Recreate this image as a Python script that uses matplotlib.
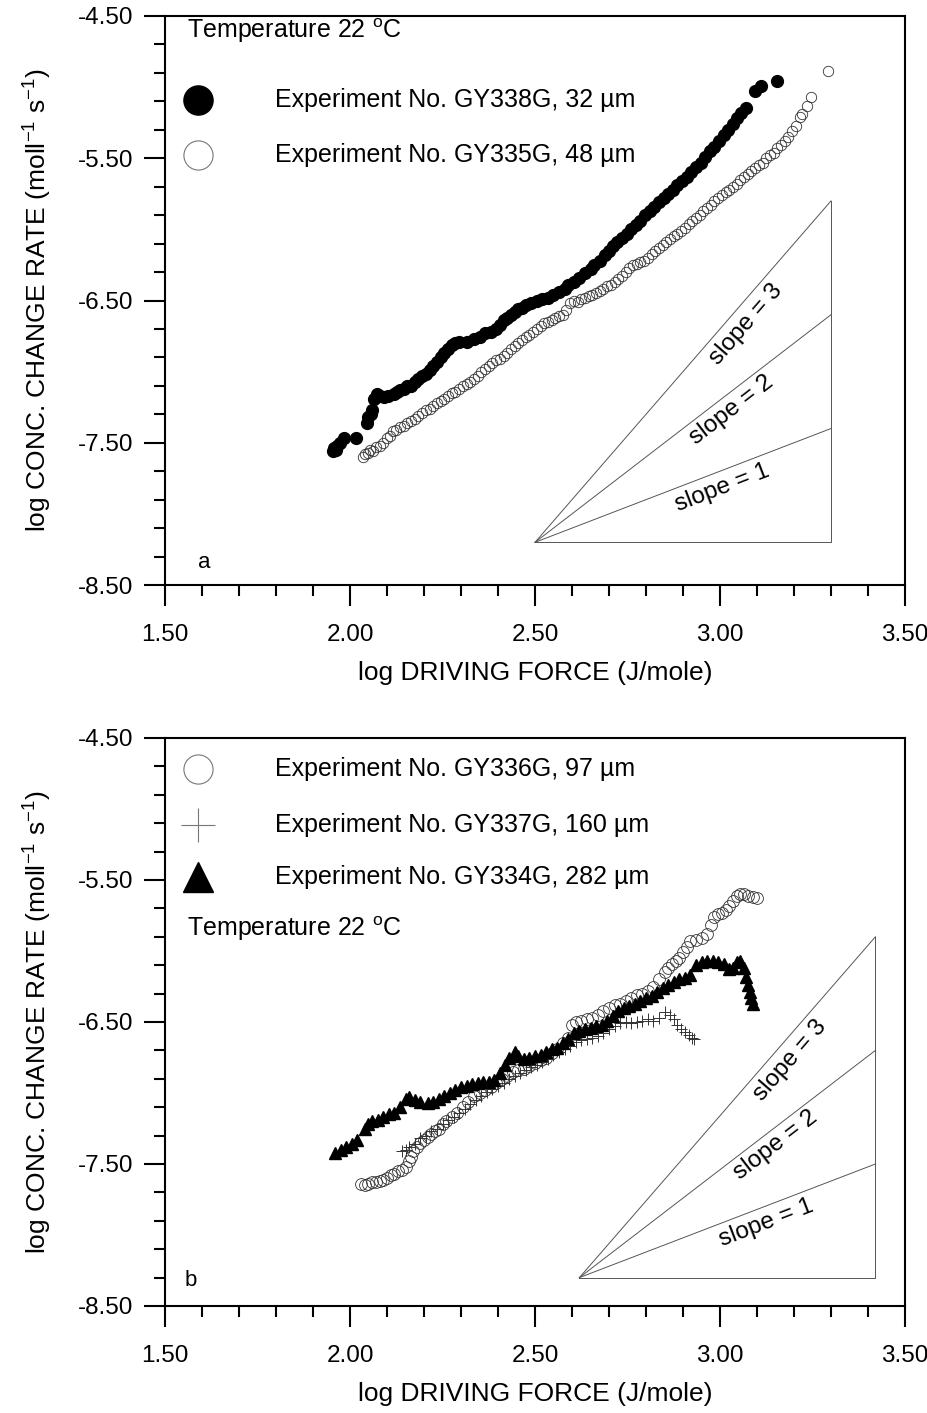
import matplotlib
matplotlib.use("Agg")
import matplotlib.pyplot as plt
from matplotlib.ticker import FixedLocator, FormatStrFormatter
import numpy as np

plt.rcParams['font.family'] = ['Liberation Sans', 'DejaVu Sans']
plt.rcParams['mathtext.fontset'] = 'custom'
plt.rcParams['mathtext.rm'] = 'Liberation Sans'
plt.rcParams['mathtext.it'] = 'Liberation Sans:italic'

# panel a : GY338G (32 um, filled circles)
a338_x = [1.955, 1.958, 1.962, 1.965, 1.972, 1.985, 2.015, 2.045, 2.050, 2.056,
          2.060, 2.064, 2.072, 2.080, 2.093, 2.102, 2.120, 2.128, 2.136, 2.145,
          2.155, 2.165, 2.175, 2.185, 2.195, 2.205, 2.215, 2.225, 2.235, 2.245,
          2.255, 2.265, 2.275, 2.285, 2.295, 2.315, 2.335, 2.350, 2.365, 2.380,
          2.395, 2.405, 2.415, 2.425, 2.435, 2.445, 2.455, 2.465, 2.475, 2.490,
          2.505, 2.520, 2.535, 2.550, 2.565, 2.580, 2.590, 2.605, 2.620, 2.635,
          2.650, 2.660, 2.675, 2.690, 2.700, 2.712, 2.722, 2.735, 2.748, 2.760,
          2.772, 2.785, 2.798, 2.810, 2.822, 2.835, 2.848, 2.860, 2.872, 2.885,
          2.898, 2.910, 2.922, 2.935, 2.948, 2.960, 2.972, 2.985, 2.998, 3.010,
          3.022, 3.034, 3.046, 3.058, 3.070, 3.095, 3.112, 3.155]
a338_y = [-7.56, -7.54, -7.55, -7.52, -7.50, -7.47, -7.47, -7.36, -7.32, -7.30,
          -7.27, -7.19, -7.16, -7.17, -7.18, -7.17, -7.16, -7.14, -7.13, -7.12,
          -7.10, -7.10, -7.07, -7.05, -7.03, -7.02, -6.99, -6.96, -6.93, -6.90,
          -6.87, -6.84, -6.81, -6.80, -6.79, -6.79, -6.77, -6.76, -6.73, -6.72,
          -6.70, -6.67, -6.64, -6.62, -6.60, -6.58, -6.56, -6.55, -6.53, -6.52,
          -6.50, -6.49, -6.48, -6.46, -6.44, -6.42, -6.39, -6.37, -6.34, -6.31,
          -6.28, -6.25, -6.22, -6.18, -6.15, -6.12, -6.09, -6.06, -6.03, -6.00,
          -5.97, -5.94, -5.90, -5.87, -5.84, -5.81, -5.78, -5.75, -5.72, -5.69,
          -5.66, -5.63, -5.60, -5.56, -5.53, -5.49, -5.45, -5.42, -5.38, -5.34,
          -5.30, -5.26, -5.22, -5.18, -5.15, -5.03, -4.99, -4.96]

# panel a : GY335G (48 um, open circles)
a335_x = [2.035, 2.040, 2.048, 2.055, 2.062, 2.070, 2.080, 2.090, 2.100, 2.108,
          2.115, 2.125, 2.135, 2.145, 2.155, 2.165, 2.175, 2.185, 2.195, 2.205,
          2.215, 2.225, 2.235, 2.245, 2.255, 2.265, 2.275, 2.285, 2.295, 2.305,
          2.315, 2.325, 2.335, 2.345, 2.355, 2.365, 2.375, 2.385, 2.395, 2.405,
          2.415, 2.425, 2.435, 2.445, 2.455, 2.465, 2.475, 2.485, 2.495, 2.505,
          2.515, 2.525, 2.535, 2.545, 2.555, 2.565, 2.575, 2.585, 2.595, 2.605,
          2.615, 2.625, 2.635, 2.645, 2.655, 2.665, 2.675, 2.685, 2.695, 2.705,
          2.715, 2.725, 2.735, 2.745, 2.755, 2.765, 2.775, 2.785, 2.795, 2.805,
          2.815, 2.825, 2.835, 2.845, 2.855, 2.865, 2.875, 2.885, 2.895, 2.905,
          2.915, 2.925, 2.935, 2.945, 2.955, 2.965, 2.975, 2.985, 2.995, 3.005,
          3.015, 3.025, 3.035, 3.045, 3.055, 3.065, 3.075, 3.085, 3.095, 3.105,
          3.115, 3.125, 3.135, 3.145, 3.155, 3.165, 3.175, 3.185, 3.195, 3.205,
          3.215, 3.222, 3.235, 3.245, 3.292]
a335_y = [-7.60, -7.58, -7.57, -7.55, -7.56, -7.53, -7.52, -7.50, -7.47, -7.45,
          -7.42, -7.41, -7.39, -7.38, -7.36, -7.35, -7.33, -7.31, -7.29, -7.27,
          -7.26, -7.24, -7.22, -7.21, -7.19, -7.17, -7.15, -7.14, -7.12, -7.10,
          -7.09, -7.07, -7.05, -7.03, -7.00, -6.98, -6.96, -6.94, -6.92, -6.91,
          -6.89, -6.87, -6.84, -6.82, -6.80, -6.78, -6.76, -6.74, -6.72, -6.70,
          -6.68, -6.66, -6.65, -6.64, -6.62, -6.61, -6.60, -6.57, -6.52, -6.50,
          -6.51, -6.49, -6.48, -6.47, -6.46, -6.45, -6.43, -6.42, -6.40, -6.39,
          -6.37, -6.35, -6.33, -6.30, -6.27, -6.25, -6.24, -6.23, -6.22, -6.20,
          -6.17, -6.15, -6.13, -6.11, -6.09, -6.07, -6.05, -6.03, -6.01, -5.99,
          -5.96, -5.94, -5.92, -5.90, -5.87, -5.85, -5.83, -5.80, -5.78, -5.76,
          -5.74, -5.72, -5.70, -5.68, -5.65, -5.63, -5.61, -5.59, -5.57, -5.55,
          -5.53, -5.50, -5.48, -5.46, -5.43, -5.41, -5.38, -5.35, -5.31, -5.27,
          -5.21, -5.19, -5.13, -5.07, -4.89]

# panel b : GY336G (97 um, open circles)
b336_x = [2.030, 2.040, 2.050, 2.060, 2.070, 2.080, 2.090, 2.100, 2.110, 2.120,
          2.130, 2.140, 2.150, 2.160, 2.165, 2.170, 2.180, 2.190, 2.200, 2.210,
          2.220, 2.230, 2.240, 2.250, 2.260, 2.275, 2.290, 2.305, 2.320, 2.335,
          2.350, 2.365, 2.380, 2.395, 2.410, 2.425, 2.440, 2.455, 2.470, 2.485,
          2.500, 2.515, 2.530, 2.545, 2.560, 2.575, 2.590, 2.600, 2.610, 2.625,
          2.640, 2.655, 2.670, 2.685, 2.700, 2.715, 2.730, 2.745, 2.760, 2.775,
          2.790, 2.805, 2.820, 2.835, 2.850, 2.860, 2.870, 2.880, 2.890, 2.900,
          2.910, 2.920, 2.935, 2.950, 2.965, 2.975, 2.985, 2.995, 3.005, 3.015,
          3.025, 3.035, 3.045, 3.055, 3.065, 3.075, 3.090, 3.100]
b336_y = [-7.64, -7.65, -7.64, -7.63, -7.63, -7.62, -7.61, -7.60, -7.58, -7.57,
          -7.55, -7.54, -7.52, -7.48, -7.45, -7.41, -7.38, -7.35, -7.33, -7.31,
          -7.29, -7.27, -7.25, -7.22, -7.20, -7.17, -7.14, -7.10, -7.06, -7.02,
          -7.00, -6.98, -6.96, -6.93, -6.90, -6.88, -6.85, -6.84, -6.83, -6.81,
          -6.79, -6.77, -6.75, -6.72, -6.69, -6.65, -6.61, -6.52, -6.50, -6.49,
          -6.48, -6.47, -6.45, -6.42, -6.40, -6.38, -6.37, -6.35, -6.33, -6.31,
          -6.30, -6.28, -6.25, -6.20, -6.15, -6.12, -6.09, -6.07, -6.05, -6.01,
          -5.97, -5.93, -5.92, -5.91, -5.88, -5.82, -5.76, -5.74, -5.73, -5.71,
          -5.68, -5.65, -5.61, -5.60, -5.60, -5.61, -5.62, -5.63]

# panel b : GY337G (160 um, crosses)
b337_x = [2.140, 2.150, 2.160, 2.175, 2.190, 2.205, 2.220, 2.235, 2.250, 2.265,
          2.280, 2.295, 2.310, 2.325, 2.340, 2.355, 2.370, 2.385, 2.400, 2.415,
          2.430, 2.445, 2.460, 2.475, 2.490, 2.505, 2.520, 2.535, 2.550, 2.565,
          2.580, 2.595, 2.610, 2.625, 2.640, 2.655, 2.670, 2.685, 2.700, 2.715,
          2.730, 2.745, 2.760, 2.775, 2.790, 2.805, 2.820, 2.835, 2.850, 2.865,
          2.875, 2.885, 2.895, 2.905, 2.915, 2.925, 2.930]
b337_y = [-7.41, -7.40, -7.38, -7.36, -7.32, -7.30, -7.27, -7.25, -7.22, -7.19,
          -7.17, -7.14, -7.11, -7.08, -7.05, -7.02, -6.99, -6.97, -6.95, -6.93,
          -6.90, -6.88, -6.86, -6.84, -6.82, -6.80, -6.78, -6.76, -6.73, -6.71,
          -6.69, -6.67, -6.64, -6.63, -6.62, -6.61, -6.60, -6.58, -6.55, -6.53,
          -6.51, -6.50, -6.51, -6.50, -6.49, -6.48, -6.49, -6.47, -6.43, -6.45,
          -6.48, -6.52, -6.55, -6.57, -6.59, -6.61, -6.62]

# panel b : GY334G (282 um, filled triangles)
b334_x = [1.960, 1.975, 1.990, 2.005, 2.020, 2.040, 2.050, 2.060, 2.075, 2.090,
          2.105, 2.120, 2.135, 2.150, 2.160, 2.175, 2.190, 2.210, 2.225, 2.240,
          2.255, 2.270, 2.285, 2.300, 2.315, 2.330, 2.345, 2.360, 2.375, 2.390,
          2.405, 2.420, 2.430, 2.445, 2.455, 2.470, 2.485, 2.500, 2.515, 2.530,
          2.545, 2.560, 2.575, 2.590, 2.605, 2.620, 2.635, 2.650, 2.665, 2.680,
          2.695, 2.710, 2.725, 2.740, 2.755, 2.770, 2.785, 2.800, 2.815, 2.830,
          2.845, 2.860, 2.875, 2.890, 2.905, 2.920, 2.935, 2.950, 2.965, 2.980,
          2.995, 3.010, 3.025, 3.035, 3.045, 3.055, 3.065, 3.070, 3.075, 3.080,
          3.085, 3.090]
b334_y = [-7.42, -7.40, -7.38, -7.36, -7.33, -7.25, -7.22, -7.20, -7.19, -7.17,
          -7.15, -7.14, -7.10, -7.04, -7.03, -7.05, -7.06, -7.07, -7.06, -7.04,
          -7.02, -7.00, -6.98, -6.96, -6.95, -6.94, -6.93, -6.92, -6.92, -6.91,
          -6.86, -6.80, -6.75, -6.71, -6.74, -6.76, -6.75, -6.74, -6.73, -6.71,
          -6.69, -6.68, -6.65, -6.62, -6.58, -6.56, -6.55, -6.54, -6.53, -6.52,
          -6.49, -6.46, -6.42, -6.40, -6.39, -6.37, -6.35, -6.33, -6.32, -6.29,
          -6.26, -6.24, -6.22, -6.20, -6.19, -6.17, -6.10, -6.08, -6.07, -6.07,
          -6.08, -6.09, -6.13, -6.12, -6.08, -6.07, -6.12, -6.18, -6.24, -6.29,
          -6.33, -6.37]

# axis ticks
x_major = [1.5, 2.0, 2.5, 3.0, 3.5]
y_major = [-8.5, -7.5, -6.5, -5.5, -4.5]

# reference slope triangles: apex x, apex y, right x
tri_a = (2.50, -8.20, 3.30)
tri_b = (2.62, -8.30, 3.42)
slopes = [1, 2, 3]
slope_lbl_dx = {1: 0.505, 2: 0.53, 3: 0.57}
slope_lbl_dy = {1: -0.12, 2: -0.13, 3: -0.18}

labels_a = ["Experiment No. GY338G, 32 \u00b5m", "Experiment No. GY335G, 48 \u00b5m"]
labels_b = ["Experiment No. GY336G, 97 \u00b5m", "Experiment No. GY337G, 160 \u00b5m",
            "Experiment No. GY334G, 282 \u00b5m"]
temp_txt = r"Temperature 22 $^{\mathrm{o}}$C"
xlab = "log DRIVING FORCE (J/mole)"
ylab = r"log CONC. CHANGE RATE (moll$^{\mathrm{-1}}$ s$^{\mathrm{-1}}$)"

W, H = 927, 1413
fig = plt.figure(figsize=(W / 100, H / 100), dpi=100)
ax1 = fig.add_axes([165 / W, 1 - 585 / H, 740 / W, 569 / H])
ax2 = fig.add_axes([165 / W, 1 - 1306 / H, 740 / W, 568 / H])


def style_axes(ax):
    ax.set_xlim(1.5, 3.5)
    ax.set_ylim(-8.5, -4.5)
    ax.xaxis.set_major_locator(FixedLocator(x_major))
    ax.xaxis.set_minor_locator(FixedLocator(np.arange(1.5, 3.51, 0.1)))
    ax.yaxis.set_major_locator(FixedLocator(y_major))
    ax.yaxis.set_minor_locator(FixedLocator(np.arange(-8.5, -4.49, 0.2)))
    ax.xaxis.set_major_formatter(FormatStrFormatter('%.2f'))
    ax.yaxis.set_major_formatter(FormatStrFormatter('%.2f'))
    ax.tick_params(which='both', direction='out', width=1.5, top=False, right=False,
                   labelsize=17.5)
    ax.tick_params(which='major', length=15)
    ax.tick_params(which='minor', length=8)
    ax.tick_params(axis='x', pad=13)
    ax.tick_params(axis='y', pad=8)
    for s in ax.spines.values():
        s.set_linewidth(1.5)
    ax.set_xlabel(xlab, fontsize=19, labelpad=11)
    ax.set_ylabel(ylab, fontsize=19)
    ax.yaxis.set_label_coords(-0.15, 0.5)


def slope_triangle(ax, tri):
    x0, y0, x1 = tri
    dx = x1 - x0
    ax.plot([x0, x1, x1], [y0, y0, y0 + 3 * dx], color='#555555', lw=0.7)
    for s in slopes:
        ax.plot([x0, x1], [y0, y0 + s * dx], color='#555555', lw=0.7)
        tx = x0 + slope_lbl_dx[s]
        ty = y0 + s * slope_lbl_dx[s] + slope_lbl_dy[s]
        ax.text(tx, ty, "slope = %d" % s, fontsize=17.5, ha='center', va='center',
                rotation=np.degrees(np.arctan(s)), rotation_mode='anchor',
                transform_rotates_text=True)


# ---- panel a
style_axes(ax1)
ax1.plot(a335_x, a335_y, 'o', ms=7.5, mfc='none', mec='#333333', mew=0.6)
ax1.plot(a338_x, a338_y, 'o', ms=8.5, color='black')
slope_triangle(ax1, tri_a)
ax1.text(0.030, 0.975, temp_txt, transform=ax1.transAxes, fontsize=18, va='center')
ax1.plot([0.045], [0.852], 'o', ms=21, color='black', transform=ax1.transAxes, clip_on=False)
ax1.plot([0.045], [0.756], 'o', ms=21, mfc='white', mec='#777777', mew=0.8,
         transform=ax1.transAxes, clip_on=False)
ax1.text(0.149, 0.852, labels_a[0], transform=ax1.transAxes, fontsize=18, va='center')
ax1.text(0.149, 0.756, labels_a[1], transform=ax1.transAxes, fontsize=18, va='center')
ax1.text(1.59, -8.34, "a", fontsize=16, va='center')

# ---- panel b
style_axes(ax2)
ax2.plot(b336_x, b336_y, 'o', ms=8.5, mfc='none', mec='#333333', mew=0.6)
ax2.plot(b337_x, b337_y, '+', ms=9, color='#333333', mew=0.7)
ax2.plot(b334_x, b334_y, '^', ms=8, color='black')
slope_triangle(ax2, tri_b)
ax2.plot([0.045], [0.945], 'o', ms=21, mfc='white', mec='#777777', mew=0.8,
         transform=ax2.transAxes, clip_on=False)
ax2.plot([0.045], [0.847], '+', ms=24, color='#777777', mew=0.8,
         transform=ax2.transAxes, clip_on=False)
ax2.plot([0.045], [0.755], '^', ms=21, color='black', transform=ax2.transAxes, clip_on=False)
for lbl, yy in zip(labels_b, [0.945, 0.847, 0.755]):
    ax2.text(0.149, yy, lbl, transform=ax2.transAxes, fontsize=18, va='center')
ax2.text(0.030, 0.664, temp_txt, transform=ax2.transAxes, fontsize=18, va='center')
ax2.text(1.554, -8.32, "b", fontsize=16, va='center')

fig.savefig("out.png", dpi=100)
